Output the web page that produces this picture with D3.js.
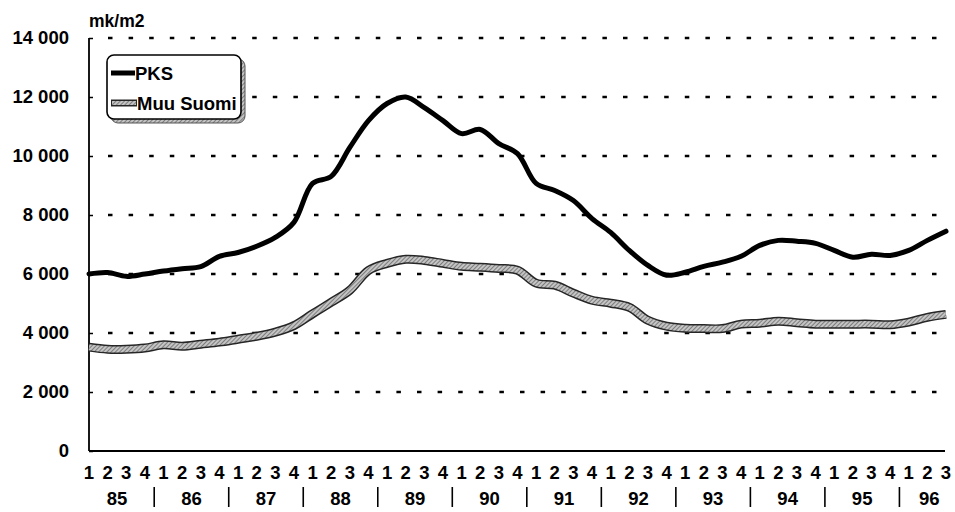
<!DOCTYPE html>
<html>
<head>
<meta charset="utf-8">
<script src="https://cdn.jsdelivr.net/npm/d3@7"></script>
<style>
  body { margin: 0; background: #fff; }
  svg { font-family: "Liberation Sans", Arial, sans-serif; font-weight: bold; }
</style>
</head>
<body>
<script>
// Quarterly prices, mk/m2, 1985 Q1 .. 1996 Q3
const years = ["85", "86", "87", "88", "89", "90", "91", "92", "93", "94", "95", "96"];
const quarters = ["1", "2", "3", "4"];
const pks = [
  6000, 6050, 5920, 6000,
  6100, 6180, 6250, 6600,
  6730, 6940, 7240, 7750,
  9070, 9310, 10290, 11200,
  11780, 12000, 11640, 11200,
  10760, 10900, 10420, 10080,
  9070, 8830, 8490, 7880,
  7410, 6800, 6290, 5960,
  6060, 6260, 6400, 6600,
  6970, 7140, 7110, 7040,
  6800, 6570, 6670, 6630,
  6800, 7140, 7450
];
const muuSuomi = [
  3520, 3450, 3450, 3490,
  3600, 3550, 3620, 3690,
  3790, 3890, 4030, 4250,
  4650, 5040, 5450, 6120,
  6360, 6500, 6460, 6360,
  6260, 6230, 6190, 6130,
  5690, 5620, 5350, 5110,
  5010, 4870, 4430, 4230,
  4160, 4150, 4150, 4300,
  4330, 4400, 4350, 4300,
  4300, 4300, 4300, 4280,
  4370, 4530, 4630
];
const yTicks = [0, 2000, 4000, 6000, 8000, 10000, 12000, 14000];

const width = 955, height = 512;
const margin = { left: 89, right: 946, top: 38, bottom: 451 };
const fontSize = 18.5;

const svg = d3.select("body").append("svg")
  .attr("width", width)
  .attr("height", height);

// hatch pattern for the grey series and legend shadow
const defs = svg.append("defs");
const hatch = defs.append("pattern")
  .attr("id", "hatch")
  .attr("patternUnits", "userSpaceOnUse")
  .attr("width", 3).attr("height", 3)
  .attr("patternTransform", "rotate(45)");
hatch.append("rect").attr("width", 3).attr("height", 3).attr("fill", "#c4c4c4");
hatch.append("line").attr("x1", 0).attr("y1", 0).attr("x2", 0).attr("y2", 3)
  .attr("stroke", "#555").attr("stroke-width", 1.3);

const xScale = d3.scaleLinear().domain([0, pks.length - 1]).range([margin.left, margin.right]);
const yScale = d3.scaleLinear().domain([0, 14000]).range([margin.bottom, margin.top]);

const fmt = d => d3.format(",")(d).replace(/,/g, " ");

// gridlines
svg.append("g").selectAll("line")
  .data(yTicks.filter(d => d > 0))
  .enter().append("line")
  .attr("x1", margin.left + 19)
  .attr("x2", margin.right)
  .attr("y1", d => yScale(d))
  .attr("y2", d => yScale(d))
  .attr("stroke", "#000")
  .attr("stroke-width", 2.4)
  .attr("stroke-dasharray", "4.5 16.1");

// y axis
const yAxis = svg.append("g")
  .attr("transform", `translate(${margin.left},0)`)
  .call(d3.axisLeft(yScale).tickValues(yTicks).tickFormat(fmt).tickSize(-4).tickPadding(20));
yAxis.select(".domain").attr("stroke-width", 1.8).attr("d", `M0,${margin.top}V${margin.bottom}`);
yAxis.selectAll(".tick line").attr("stroke-width", 1.5);
yAxis.selectAll("text")
  .attr("font-size", fontSize)
  .attr("font-family", "Liberation Sans, Arial, sans-serif")
  .attr("font-weight", "bold")
  .attr("fill", "#000");

// x axis line
svg.append("line")
  .attr("x1", margin.left).attr("x2", margin.right - 1)
  .attr("y1", margin.bottom).attr("y2", margin.bottom)
  .attr("stroke", "#000").attr("stroke-width", 2);

// quarter labels
const qIdx = d3.range(pks.length);
svg.append("g").selectAll("text")
  .data(qIdx)
  .enter().append("text")
  .attr("x", d => xScale(d))
  .attr("y", 479)
  .attr("text-anchor", "middle")
  .attr("font-size", fontSize)
  .text(d => quarters[d % 4]);

// year labels and separators
svg.append("g").selectAll("text")
  .data(years)
  .enter().append("text")
  .attr("x", (d, i) => xScale(i * 4 + (i === years.length - 1 ? 1.1 : 1.5)))
  .attr("y", 505)
  .attr("text-anchor", "middle")
  .attr("font-size", fontSize)
  .text(d => d);

svg.append("g").selectAll("line")
  .data(years.slice(1))
  .enter().append("line")
  .attr("x1", (d, i) => xScale((i + 1) * 4 - 0.5))
  .attr("x2", (d, i) => xScale((i + 1) * 4 - 0.5))
  .attr("y1", 487).attr("y2", 507)
  .attr("stroke", "#000").attr("stroke-width", 1.6);

// unit label
svg.append("text")
  .attr("x", 89).attr("y", 27)
  .attr("font-size", 17.5)
  .text("mk/m2");

// lines
const line = d3.line()
  .x((d, i) => xScale(i))
  .y(d => yScale(d))
  .curve(d3.curveCatmullRom.alpha(0.5));

svg.append("path")
  .datum(muuSuomi)
  .attr("d", line)
  .attr("fill", "none")
  .attr("stroke", "#262626")
  .attr("stroke-width", 9)
  .attr("stroke-linejoin", "round");
svg.append("path")
  .datum(muuSuomi)
  .attr("d", line)
  .attr("fill", "none")
  .attr("stroke", "url(#hatch)")
  .attr("stroke-width", 6)
  .attr("stroke-linejoin", "round");

svg.append("path")
  .datum(pks)
  .attr("d", line)
  .attr("fill", "none")
  .attr("stroke", "#000")
  .attr("stroke-width", 5)
  .attr("stroke-linejoin", "round")
  .attr("stroke-linecap", "round");

// legend
const legend = svg.append("g");
legend.append("rect")
  .attr("x", 111).attr("y", 59)
  .attr("width", 134).attr("height", 64).attr("rx", 7)
  .attr("fill", "url(#hatch)").attr("stroke", "#555").attr("stroke-width", 1);
legend.append("rect")
  .attr("x", 107).attr("y", 55)
  .attr("width", 134).attr("height", 64).attr("rx", 7)
  .attr("fill", "#fff").attr("stroke", "#000").attr("stroke-width", 1.6);

const legendItems = [
  { name: "PKS", y: 73 },
  { name: "Muu Suomi", y: 103 }
];
legendItems.forEach((it, i) => {
  if (i === 0) {
    legend.append("line")
      .attr("x1", 111).attr("x2", 135).attr("y1", it.y).attr("y2", it.y)
      .attr("stroke", "#000").attr("stroke-width", 5);
  } else {
    legend.append("line")
      .attr("x1", 111).attr("x2", 137).attr("y1", it.y).attr("y2", it.y)
      .attr("stroke", "#262626").attr("stroke-width", 7);
    legend.append("line")
      .attr("x1", 112).attr("x2", 136).attr("y1", it.y).attr("y2", it.y)
      .attr("stroke", "url(#hatch)").attr("stroke-width", 4);
  }
  legend.append("text")
    .attr("x", i === 0 ? 135 : 137)
    .attr("y", it.y + 6.5)
    .attr("font-size", fontSize)
    .text(it.name);
});
</script>
</body>
</html>
